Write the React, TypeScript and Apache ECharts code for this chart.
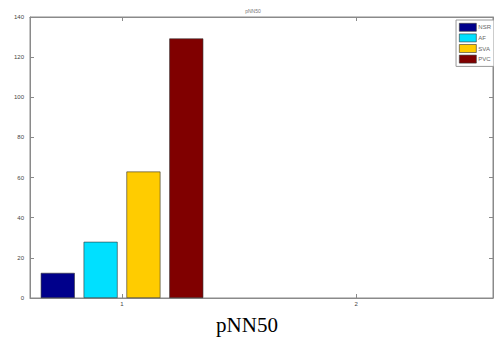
import React, { useEffect, useRef } from "react";
import * as echarts from "echarts";

const seriesNames = ["NSR", "AF", "SVA", "PVC"];
const seriesValues = [12.5, 28, 63, 129.3];
const seriesColors = ["#00008b", "#00e0ff", "#ffcc00", "#800000"];
const groupX = 1;
const yTicks = [0, 20, 40, 60, 80, 100, 120, 140];
const xTicks = [1, 2];

export default function App() {
  const ref = useRef<HTMLDivElement>(null);
  useEffect(() => {
    const chart = echarts.init(ref.current!, undefined, { renderer: "svg" });
    const axisColor = "#8a8a8a";
    const labelColor = "#444";
    const xMin = 0.6068;
    const xMax = 2.585;
    const series: any[] = seriesNames.map((name, i) => ({
      type: "bar",
      name,
      data: [[groupX, seriesValues[i]]],
      barWidth: 34,
      barGap: "26%",
      itemStyle: { color: seriesColors[i], borderColor: "#333", borderWidth: 0.6 },
      xAxisIndex: 0,
      yAxisIndex: 0,
    }));
    chart.setOption({
      animation: false,
      title: {
        text: "pNN50",
        left: 248,
        top: 3,
        textAlign: "center",
        textStyle: { fontSize: 5, color: "#777", fontWeight: "normal", fontFamily: "Arial" },
      },
      legend: {
        data: seriesNames,
        orient: "vertical",
        right: 0,
        top: 20,
        itemWidth: 17,
        itemHeight: 8,
        itemGap: 2,
        padding: [3, 3, 3, 3],
        borderColor: "#999",
        borderWidth: 1,
        backgroundColor: "#fff",
        icon: "rect",
        itemStyle: { borderColor: "#333", borderWidth: 0.6 },
        textStyle: { fontSize: 6, color: "#666", fontFamily: "Arial", padding: [0, 0, 0, -3] },
      },
      grid: {
        left: 30,
        top: 17,
        right: 1,
        bottom: 65,
        show: true,
        borderColor: axisColor,
        borderWidth: 1,
        backgroundColor: "#fff",
      },
      xAxis: [
        {
          type: "value",
          min: xMin,
          max: xMax,
          position: "bottom",
          splitLine: { show: false },
          axisLine: { show: true, onZero: false, lineStyle: { color: axisColor } },
          axisTick: { show: true, inside: true, length: 4, customValues: xTicks, lineStyle: { color: axisColor } },
          axisLabel: {
            show: true,
            fontSize: 6,
            color: labelColor,
            fontFamily: "Arial",
            margin: 3,
            customValues: xTicks,
            formatter: (v: number) => String(v),
          },
        },
        {
          type: "value",
          min: xMin,
          max: xMax,
          position: "top",
          splitLine: { show: false },
          axisLine: { show: true, onZero: false, lineStyle: { color: axisColor } },
          axisTick: { show: true, inside: true, length: 4, customValues: xTicks, lineStyle: { color: axisColor } },
          axisLabel: { show: false },
        },
      ],
      yAxis: [
        {
          type: "value",
          min: 0,
          max: 140,
          interval: 20,
          position: "left",
          splitLine: { show: false },
          axisLine: { show: true, lineStyle: { color: axisColor } },
          axisTick: { show: true, inside: true, length: 4, lineStyle: { color: axisColor } },
          axisLabel: { fontSize: 6, color: labelColor, fontFamily: "Arial", margin: 6 },
        },
        {
          type: "value",
          min: 0,
          max: 140,
          interval: 20,
          position: "right",
          splitLine: { show: false },
          axisLine: { show: true, lineStyle: { color: axisColor } },
          axisTick: { show: true, inside: true, length: 4, lineStyle: { color: axisColor } },
          axisLabel: { show: false },
        },
      ],
      series,
      graphic: [
        {
          type: "text",
          left: "center",
          top: 314,
          style: {
            text: "pNN50",
            fontSize: 21,
            fontFamily: "Liberation Serif, Times New Roman, serif",
            fill: "#000",
          },
        },
      ],
    });
    return () => chart.dispose();
  }, []);
  return (
    <div
      ref={ref}
      style={{ position: "fixed", left: 0, top: 0, width: 494, height: 363, background: "#fff" }}
    />
  );
}
